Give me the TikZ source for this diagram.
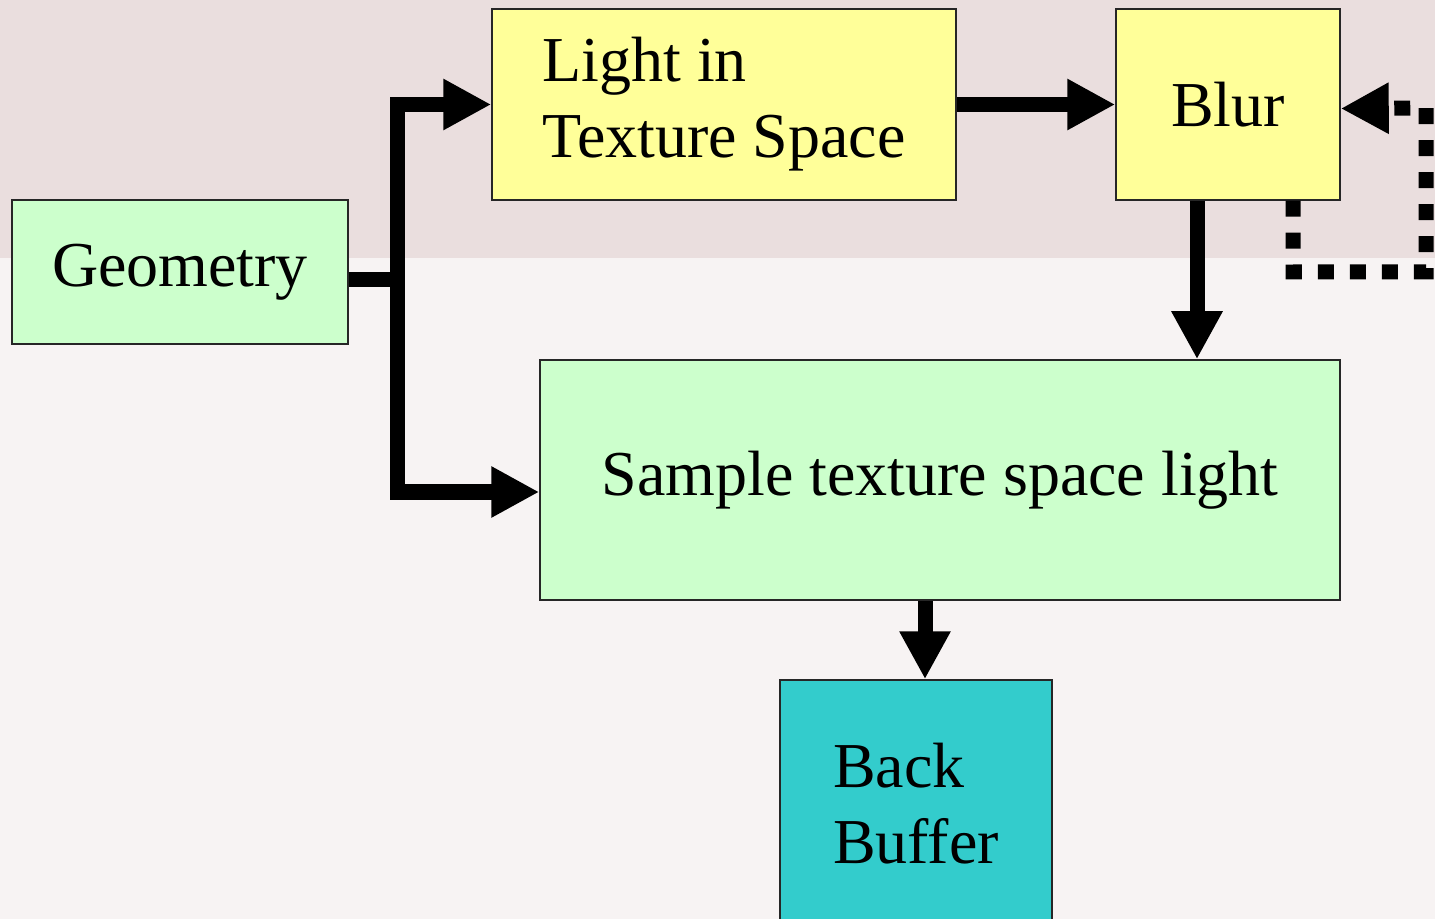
\documentclass[tikz,border=0pt]{standalone}
\usepackage{fontspec}
\setmainfont{Liberation Serif}
\usetikzlibrary{arrows.meta, positioning, calc}
\colorlet{drawColor}{black!85}
\definecolor{bgPink}{RGB}{234,222,222}
\definecolor{bgLight}{RGB}{247,243,243}
\definecolor{boxGreen}{RGB}{204,255,204}
\definecolor{boxYellow}{RGB}{255,255,153}
\definecolor{boxCyan}{RGB}{51,204,204}
\tikzstyle{fBox}=[rectangle, inner sep=0pt, draw=drawColor, line width=0.75pt,
font=\fontsize{32}{38}\selectfont]
\tikzstyle{fGreen}=[fBox, fill=boxGreen]
\tikzstyle{fYellow}=[fBox, fill=boxYellow]
\tikzstyle{fCyan}=[fBox, fill=boxCyan]
\tikzstyle{bar}=[line width=7.5pt, draw=black]
\tikzstyle{arrow}=[bar, -{Triangle[length=24pt, width=24pt]}]
\tikzstyle{dotArrow}=[arrow, dash pattern=on 8pt off 8pt]

\begin{document}
\begin{tikzpicture}[x=0.5pt, y=-0.5pt]
  \useasboundingbox (0,0) rectangle (1435,919);
  % faded backdrop
  \fill[bgLight] (0,0) rectangle (1435,919);
  \fill[bgPink] (0,0) rectangle (1435,258);

  \node(geo) [fGreen, minimum width=168pt, minimum height=72pt] at (180,272) {Geometry};
  \node(light) [fYellow, align=left, minimum width=232pt, minimum height=95.5pt]
    at (724,104.5) {Light in\\Texture Space};
  \node(blur) [fYellow, minimum width=112pt, minimum height=95.5pt] at (1228,104.5) {Blur};
  \node(sample) [fGreen, minimum width=400pt, minimum height=120pt]
    at (940,480) {Sample texture space light};
  \node(back) [fCyan, align=left, minimum width=136pt, minimum height=124pt]
    at (916,804) {Back\\Buffer};

  % geometry feeds both passes
  \coordinate(split) at (397,280);
  \draw [bar] (geo.east |- split) -- (split);
  \draw [arrow] ($ (split) + (0,3.75) $) |- (light);
  \draw [arrow] ($ (split) - (0,3.75) $) |- ([yshift=-6pt]sample.west);

  \draw [arrow] (light) -- (blur);
  \draw [arrow] ([xshift=-15.5pt]blur.south) -- ([xshift=-15.5pt]blur.south |- sample.north);
  \draw [arrow] ([xshift=-7.5pt]sample.south) -- ([xshift=-7.5pt]sample.south |- back.north);

  % repeated blur passes
  \coordinate(loopA) at (1293,272);
  \coordinate(loopB) at (1426,108);
  \draw [dotArrow] (blur.south -| loopA) -- (loopA) -| (loopB) -- ([yshift=-2pt]blur.east);
\end{tikzpicture}
\end{document}
